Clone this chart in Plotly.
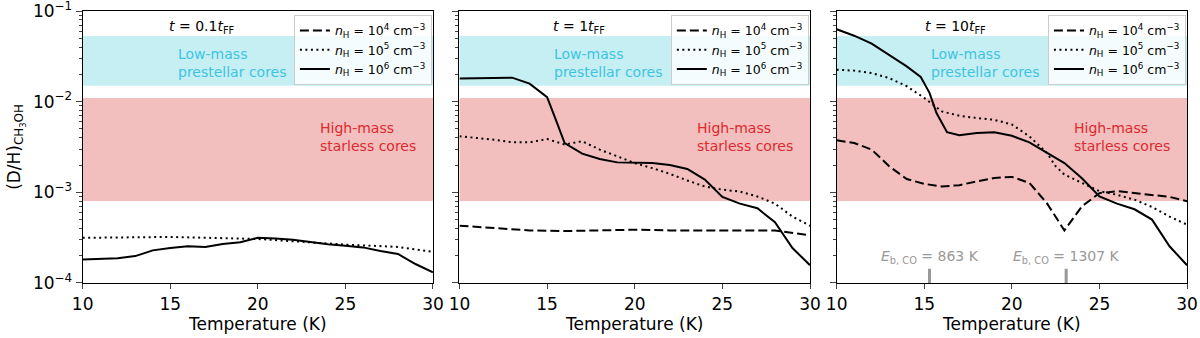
import plotly.graph_objects as go

# temperatures (K)
T_p1 = [10, 11, 12, 13, 14, 15, 16, 17, 18, 19, 20, 21, 22, 23, 24, 25, 26, 27, 28, 29, 30]
T_dot1 = [10, 15, 20, 25, 28, 30]
T_p2 = [10, 11, 12, 13, 14, 15, 15.5, 16, 17, 18, 19, 20, 21, 22, 23, 24, 25, 26, 27, 28, 29, 30]
T_p2b = [10, 12, 13, 14, 15, 16, 17, 18, 19, 20, 21, 22, 23, 24, 25, 26, 27, 28, 29, 30]
T_p2c = [10, 12, 14, 16, 18, 20, 22, 24, 26, 28, 30]
T_p3s = [10, 11, 12, 13, 14, 14.8, 15.3, 15.7, 16.3, 17, 18, 19, 20, 21, 22, 23, 24, 25, 26, 27, 28, 29, 30]
T_p3 = [10, 11, 12, 13, 14, 15, 16, 17, 18, 19, 20, 21, 22, 22.5, 23, 24, 25, 26, 27, 28, 29, 30]
T_p3d = [10, 11, 12, 13, 14, 15, 16, 17, 18, 19, 20, 21, 22, 23, 24, 25, 26, 27, 28, 29, 30]

# t = 0.1 t_FF
p1_n5 = [3.15e-4, 3.22e-4, 3.06e-4, 2.65e-4, 2.5e-4, 2.2e-4]
p1_n6 = [1.82e-4, 1.83e-4, 1.87e-4, 1.98e-4, 2.29e-4, 2.43e-4, 2.54e-4, 2.5e-4, 2.69e-4, 2.81e-4,
         3.16e-4, 3.1e-4, 3.0e-4, 2.83e-4, 2.67e-4, 2.58e-4, 2.47e-4, 2.25e-4, 2.09e-4, 1.62e-4, 1.31e-4]

# t = 1 t_FF
p2_n6 = [1.8e-2, 1.81e-2, 1.83e-2, 1.84e-2, 1.58e-2, 1.12e-2, 6.3e-3, 3.5e-3, 2.67e-3, 2.33e-3, 2.14e-3,
         2.14e-3, 2.1e-3, 2.0e-3, 1.81e-3, 1.38e-3, 8.9e-4, 7.5e-4, 6.67e-4, 4.67e-4, 2.43e-4, 1.57e-4]
p2_n5 = [4.15e-3, 3.8e-3, 3.56e-3, 3.56e-3, 3.87e-3, 3.37e-3, 3.66e-3, 2.96e-3, 2.5e-3, 2.1e-3,
         1.85e-3, 1.6e-3, 1.35e-3, 1.16e-3, 1.07e-3, 1.02e-3, 9.0e-4, 7.5e-4, 5.4e-4, 4.28e-4]
p2_n4 = [4.28e-4, 4.0e-4, 3.8e-4, 3.74e-4, 3.8e-4, 3.87e-4, 3.8e-4, 3.8e-4, 3.78e-4, 3.8e-4, 3.36e-4]

# t = 10 t_FF
p3_n6 = [6.3e-2, 5.34e-2, 4.36e-2, 3.3e-2, 2.45e-2, 1.87e-2, 1.25e-2, 7.5e-3, 4.6e-3, 4.26e-3, 4.5e-3,
         4.6e-3, 4.2e-3, 3.56e-3, 2.72e-3, 2.1e-3, 1.43e-3, 9.0e-4, 7.5e-4, 6.5e-4, 5.0e-4, 2.54e-4, 1.57e-4]
p3_n5 = [2.25e-2, 2.2e-2, 2.07e-2, 1.82e-2, 1.48e-2, 1.1e-2, 7.8e-3, 7.0e-3, 6.6e-3, 6.3e-3, 5.6e-3,
         4.15e-3, 2.72e-3, 1.94e-3, 1.57e-3, 1.27e-3, 1.03e-3, 9.4e-4, 8.3e-4, 6.9e-4, 5.4e-4, 4.4e-4]
p3_n4 = [3.75e-3, 3.5e-3, 2.96e-3, 1.94e-3, 1.4e-3, 1.24e-3, 1.16e-3, 1.2e-3, 1.32e-3, 1.44e-3, 1.48e-3,
         1.27e-3, 7.6e-4, 3.8e-4, 7.0e-4, 9.8e-4, 1.03e-3, 9.8e-4, 9.4e-4, 8.9e-4, 7.96e-4]

panel_titles = ["0.1", "1", "10"]
low_band = [0.015, 0.053]
high_band = [8e-4, 0.011]
eb_T = [15.3, 23.1]
eb_labels = ["863 K", "1307 K"]
y_major = [1e-4, 1e-3, 1e-2, 1e-1]
y_major_text = ["10<sup>−4</sup>", "10<sup>−3</sup>", "10<sup>−2</sup>", "10<sup>−1</sup>"]
y_minor = [m * 10.0 ** e for e in (-4, -3, -2) for m in range(2, 10)]

leg_names = ["<i>n</i><sub>H</sub> = 10<sup>4</sup> cm<sup>−3</sup>",
             "<i>n</i><sub>H</sub> = 10<sup>5</sup> cm<sup>−3</sup>",
             "<i>n</i><sub>H</sub> = 10<sup>6</sup> cm<sup>−3</sup>"]
dashes = ["9px,4px", "2px,3.5px", "solid"]

panels = [
    [([], []), (T_dot1, p1_n5), (T_p1, p1_n6)],
    [(T_p2c, p2_n4), (T_p2b, p2_n5), (T_p2, p2_n6)],
    [(T_p3d, p3_n4), (T_p3, p3_n5), (T_p3s, p3_n6)],
]

W, H = 1200, 338
xdom = [[0.0689, 0.3608], [0.3829, 0.675], [0.6972, 0.9892]]
ydom = [0.1627, 0.9675]
FONT = "DejaVu Sans"

fig = go.Figure()
for i, series in enumerate(panels):
    ax = "" if i == 0 else str(i + 1)
    leg = "legend" if i == 0 else "legend" + str(i + 1)
    for k, (xs, ys) in enumerate(series):
        fig.add_trace(go.Scatter(
            x=xs if xs else [None], y=ys if ys else [None], mode="lines",
            name=leg_names[k], legend=leg,
            line=dict(color="black", width=2, dash=dashes[k]),
            xaxis="x" + ax, yaxis="y" + ax))

    # reference bands
    fig.add_shape(type="rect", xref="x" + ax + " domain", yref="y" + ax,
                  x0=0, x1=1, y0=low_band[0], y1=low_band[1],
                  fillcolor="rgba(23,190,207,0.25)", line_width=0, layer="below")
    fig.add_shape(type="rect", xref="x" + ax + " domain", yref="y" + ax,
                  x0=0, x1=1, y0=high_band[0], y1=high_band[1],
                  fillcolor="rgba(214,39,40,0.3)", line_width=0, layer="below")

    fig.add_annotation(xref="x" + ax + " domain", yref="y" + ax + " domain", x=0.34, y=0.94,
                       xanchor="center", yanchor="middle",
                       text="<i>t</i> = " + panel_titles[i] + "<i>t</i><sub>FF</sub>",
                       showarrow=False, font=dict(size=14, color="black", family=FONT))
    fig.add_annotation(xref="x" + ax + " domain", yref="y" + ax + " domain", x=0.265, y=0.81,
                       xanchor="left", yanchor="middle", align="left",
                       text="Low-mass<br>prestellar cores",
                       showarrow=False, font=dict(size=14, color="#3ec4e2", family=FONT))
    fig.add_annotation(xref="x" + ax + " domain", yref="y" + ax + " domain", x=0.672, y=0.535,
                       xanchor="left", yanchor="middle", align="left",
                       text="High-mass<br>starless cores",
                       showarrow=False, font=dict(size=14, color="#dc2a2e", family=FONT))

    fig.update_layout({
        "xaxis" + ax: dict(domain=xdom[i], range=[10, 30], tickvals=[10, 15, 20, 25, 30],
                           ticks="outside", ticklen=5, showline=True, mirror=True,
                           linecolor="black", linewidth=1.2, showgrid=False, zeroline=False,
                           anchor="y" + ax, automargin=False,
                           title=dict(text="Temperature (K)", font=dict(size=17), standoff=4),
                           tickfont=dict(size=17)),
        "yaxis" + ax: dict(domain=ydom, type="log", range=[-4.0002, -0.9998],
                           tickvals=y_major, ticktext=y_major_text,
                           showticklabels=(i == 0), ticks="outside", ticklen=6,
                           ticklabeloverflow="allow",
                           minor=dict(tickvals=y_minor, ticks="outside", ticklen=3, showgrid=False),
                           showline=True, mirror=True, linecolor="black", linewidth=1.2,
                           showgrid=False, zeroline=False, anchor="x" + ax, automargin=False,
                           tickfont=dict(size=17)),
        leg: dict(x=0.603 * (xdom[i][1] - xdom[i][0]) + xdom[i][0], y=0.956,
                  xref="paper", yref="paper",
                  xanchor="left", yanchor="top", bgcolor="rgba(255,255,255,0.8)",
                  bordercolor="#cccccc", borderwidth=1, font=dict(size=12.5),
                  tracegroupgap=0, itemwidth=30),
    })

fig.update_layout(yaxis_title=dict(text="(D/H)<sub>CH<sub>3</sub>OH</sub>", font=dict(size=17), standoff=8))

# binding energy markers
for T0, lab in zip(eb_T, eb_labels):
    fig.add_shape(type="line", xref="x3", yref="y3 domain", x0=T0, x1=T0, y0=0, y1=0.052,
                  line=dict(color="#999999", width=3))
    fig.add_annotation(xref="x3", yref="y3 domain", x=T0, y=0.095,
                       xanchor="center", yanchor="middle",
                       text="<i>E</i><sub>b, CO</sub> = " + lab, showarrow=False,
                       font=dict(size=14, color="#999999", family=FONT))

fig.update_layout(width=W, height=H, margin=dict(l=0, r=0, t=0, b=0, pad=0),
                  plot_bgcolor="white", paper_bgcolor="white",
                  font=dict(family=FONT, color="black"))
fig.write_html("out.html", config={"displayModeBar": False},
               post_script="document.body.style.margin = '0';")
